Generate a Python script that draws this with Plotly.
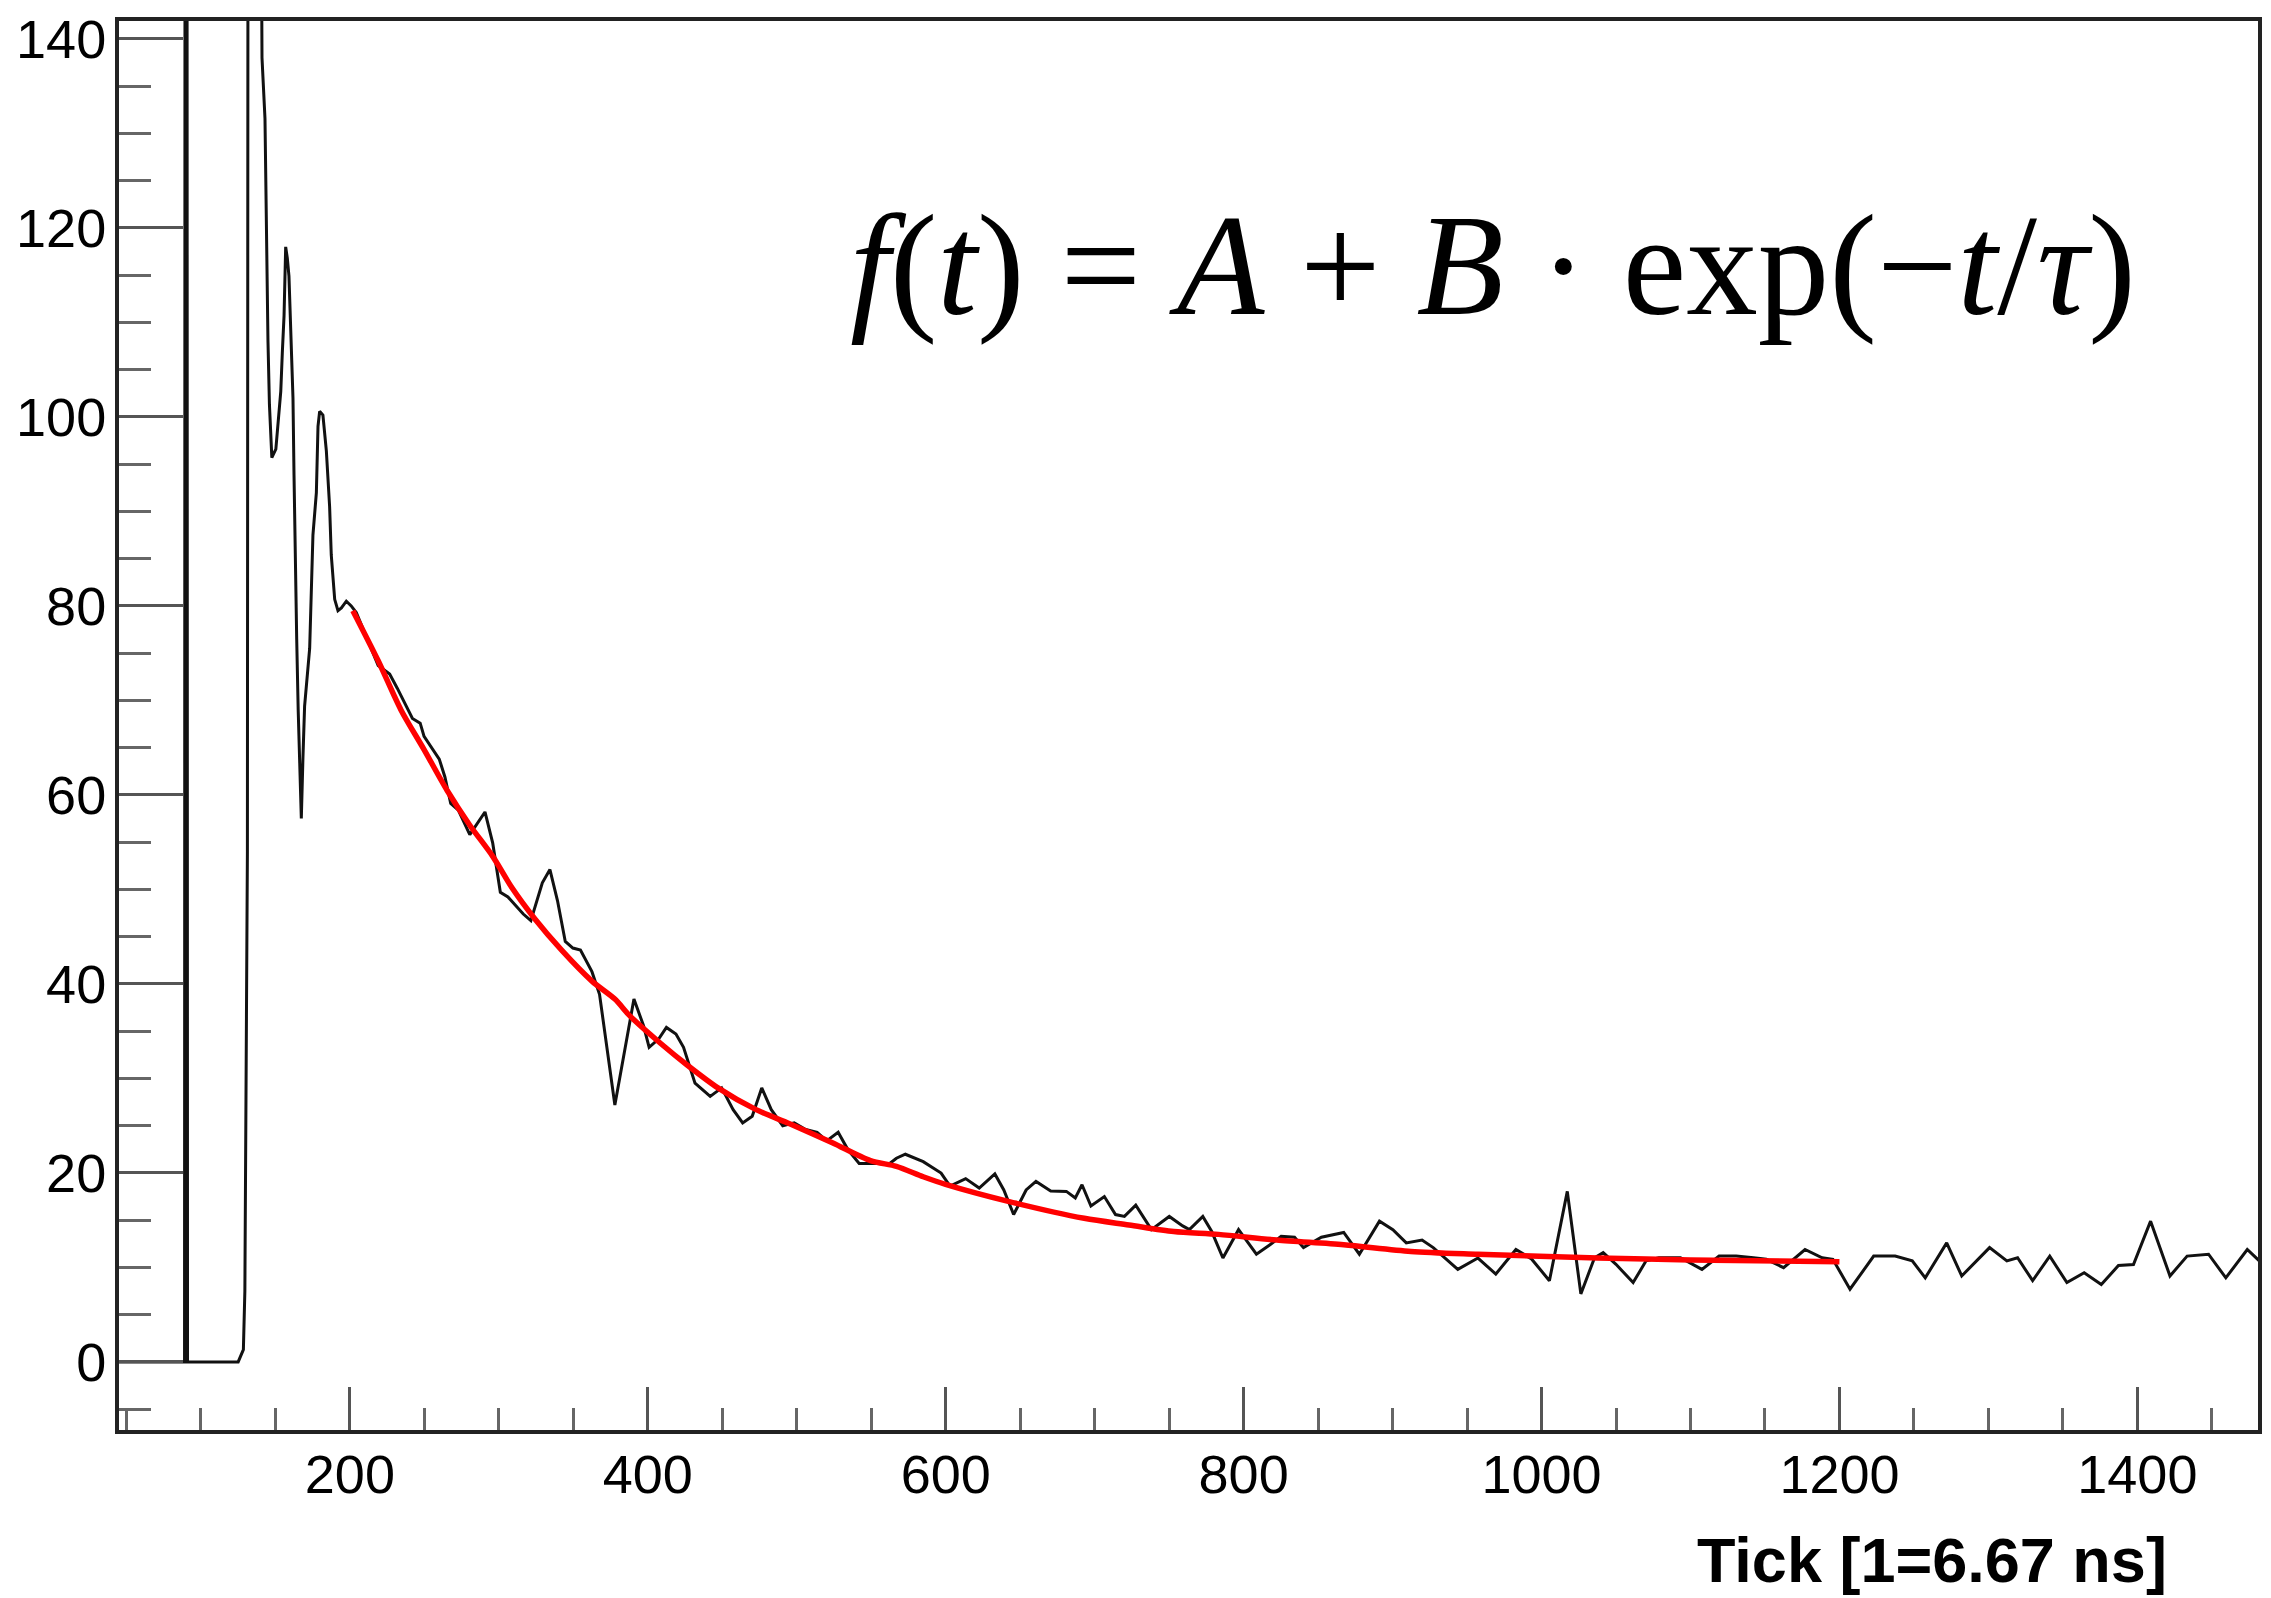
import plotly.graph_objects as go

# ---- data ----
wave_tick = [44, 89, 90, 91, 125, 126.5, 128.5, 129.5, 130.2, 131.2, 132, 136, 139, 141, 143, 144, 145, 146,
             147.6, 150.3, 153.6, 154.7, 155.8, 156.9, 158, 159.1, 160.3, 161.8, 162.5, 163.3, 164.3, 165.3,
             166.3, 167.4, 168.5, 169.6, 173, 174.1, 175.2, 177.5, 178.6, 179.7, 181.9, 184.2, 185.3, 186.4,
             187.5, 188.6, 189.8, 192, 194.3, 197.6, 200.9, 204.3,
             219, 226.7, 231.8, 242, 247.2, 249.8, 260, 263.8, 267.7, 272.8, 280.5, 290.7, 295.9, 301, 306.1,
             316.4, 321.5, 329.2, 334.3, 339.4, 344.6, 349.7, 354.8, 362.5, 367.6, 377.9, 385.5, 390.7, 397.1,
             400.9, 407.4, 412.5, 418.9, 424, 431.7, 441.9, 449.6, 457.3, 463.7, 470.1, 476.5, 482.9, 490.6,
             498.3, 506, 513.7, 520.1, 527.8, 534.2, 541.9, 552.1, 562.4,
             566.9, 572.9, 584.9, 596.9, 602.9, 613.4, 622.5, 633, 639, 645.6, 654, 660.6, 670.5, 681, 687,
             691.5, 697.5, 706.5, 714, 720, 727.6, 738.1, 750.1, 759.1, 763.6, 772.6, 778.6, 786.1, 796.6,
             808.6, 817.7, 825.2, 834.2, 840.2, 852.2, 867.2, 877.7, 891.2, 900.2, 909.2, 919.8, 927.3, 943.8,
             957.3, 969.3, 982.8, 993.3, 1005.3, 1017.3, 1026.4, 1035.6, 1041.4, 1050, 1061.5, 1070.2,
             1078.8, 1093.3, 1107.7, 1119.2, 1130.7, 1142.3, 1150.9, 1162.5, 1176.9, 1188.4, 1195.6, 1207.1,
             1223, 1237.4, 1248.9, 1257.6, 1272, 1282.1, 1300.8, 1312.4, 1319.6, 1329.7, 1341.2, 1352.7,
             1364.3, 1375.8, 1387.3, 1397.4, 1408.9, 1421.9, 1433.4, 1447.8, 1459.4, 1473.8, 1481.9]
wave_adc = [0, 0, 500, 0, 0, 0.5, 1.3, 7.5, 23, 54, 260, 300, 200, 138, 131.6, 117.7, 108.1, 101.3,
            95.7, 96.6, 102.7, 107, 110.7, 118, 116.8, 114.9, 109.3, 102, 93.8, 84.7, 76.5, 69,
            64, 57.5, 64, 69.4, 75.5, 81.6, 87.5, 92, 99, 100.6, 100.2, 96.4, 93.4, 90.5,
            85.4, 83, 80.7, 79.5, 79.8, 80.5, 80, 79.3,
            73.7, 72.8, 71.3, 68.1, 67.6, 66.2, 63.8, 61.9, 59.1, 58.4, 55.8, 58.2, 54.9, 49.7, 49.2,
            47.4, 46.7, 50.7, 52.1, 48.8, 44.5, 43.8, 43.6, 41.3, 38.9, 27.2, 33.7, 38.4, 35.6,
            33.3, 34.2, 35.4, 34.7, 33.3, 29.5, 28.1, 29.0, 26.7, 25.3, 26.0, 29.0, 26.7, 25.0,
            25.3, 24.6, 24.3, 23.4, 24.3, 22.5, 21.0, 21.0, 21.0,
            21.56, 21.98, 21.2, 19.99, 18.6, 19.4, 18.4, 19.9, 18.2, 15.6, 18.2, 19.1, 18.1, 18.05, 17.35,
            18.75, 16.5, 17.5, 15.6, 15.4, 16.6, 14.0, 15.4, 14.4, 14.0, 15.4, 13.8, 11.0, 14.0,
            11.4, 12.4, 13.3, 13.2, 12.1, 13.2, 13.7, 11.4, 14.9, 14.0, 12.6, 12.9, 12.1, 9.8,
            11.0, 9.3, 11.9, 10.9, 8.6, 18.05, 7.2, 11.03, 11.56, 10.33, 8.4, 10.7,
            11.03, 11.03, 9.8, 11.2, 11.2, 11.03, 10.86, 9.98, 11.9, 11.03, 10.86, 7.7,
            11.2, 11.2, 10.7, 8.9, 12.6, 9.1, 12.1, 10.7, 11.03, 8.6, 11.2, 8.4,
            9.45, 8.2, 10.2, 10.3, 14.9, 9.1, 11.2, 11.4, 8.9, 11.9, 10.7]

fit_tick = [202, 219, 234.3, 249.8, 265.2, 280.5, 295.9, 308.7, 324.1, 342, 362.5, 377.9, 388.1, 408.7,
            426.6, 447.1, 472.7, 498.3, 523.9, 549.5, 566.9, 584.9, 599.9, 642, 693, 723, 753.1, 783.1,
            822.2, 867.2, 912.3, 957.3, 1037.8, 1100, 1200]
fit_adc = [79.5, 74.2, 69.0, 64.8, 60.5, 56.8, 53.5, 50.2, 46.9, 43.6, 40.3, 38.4, 36.6, 33.7,
           31.4, 29.0, 26.7, 25.0, 23.2, 21.3, 20.7, 19.6, 18.8, 17.0, 15.2, 14.5, 13.8, 13.5,
           12.9, 12.4, 11.7, 11.4, 11.0, 10.8, 10.6]

x_title = "Tick [1=6.67 ns]"
formula = "<i>f</i>(<i>t</i>) = <i>A</i> + <i>B</i> · exp(−<i>t</i>/<i>τ</i>)"

fig = go.Figure()
fig.add_trace(go.Scatter(x=wave_tick, y=wave_adc, mode="lines",
                         line=dict(color="#111111", width=3), showlegend=False))
fig.add_trace(go.Scatter(x=fit_tick, y=fit_adc, mode="lines",
                         line=dict(color="#ff0000", width=5.5, shape="spline", smoothing=0.8),
                         showlegend=False))

tickfont = dict(family="Liberation Sans, Arial, sans-serif", size=54, color="#000000")
fig.update_layout(
    width=2271, height=1598,
    margin=dict(l=119, r=9, t=14, b=168),
    paper_bgcolor="white", plot_bgcolor="white",
    xaxis=dict(range=[45, 1481], showgrid=False, zeroline=False,
               showline=True, linecolor="#222222", linewidth=4, mirror=True,
               ticks="inside", tick0=0, dtick=200, ticklen=43, tickwidth=3, tickcolor="#555555",
               minor=dict(ticks="inside", dtick=50, ticklen=22, tickwidth=3, tickcolor="#666666"),
               tickfont=tickfont, ticklabelstandoff=-6),
    yaxis=dict(range=[-7.2, 141.9], showgrid=False, zeroline=False,
               showline=True, linecolor="#222222", linewidth=4, mirror=True,
               ticks="inside", tick0=0, dtick=20, ticklen=64, tickwidth=3, tickcolor="#555555",
               minor=dict(ticks="inside", dtick=5, ticklen=32, tickwidth=3, tickcolor="#666666"),
               tickfont=tickfont, ticklabelstandoff=-2),
    annotations=[
        dict(text="<b>" + x_title + "</b>", xref="paper", yref="paper", x=0.9585, y=-0.0925,
             xanchor="right", yanchor="middle", showarrow=False,
             font=dict(family="Liberation Sans, Arial, sans-serif", size=63, color="#000000")),
        dict(text=formula, xref="paper", yref="paper", x=0.6425, y=0.8263,
             xanchor="center", yanchor="middle", showarrow=False,
             font=dict(family="Liberation Serif, Times New Roman, serif", size=143, color="#000000")),
    ],
)

fig.write_html("out.html")
